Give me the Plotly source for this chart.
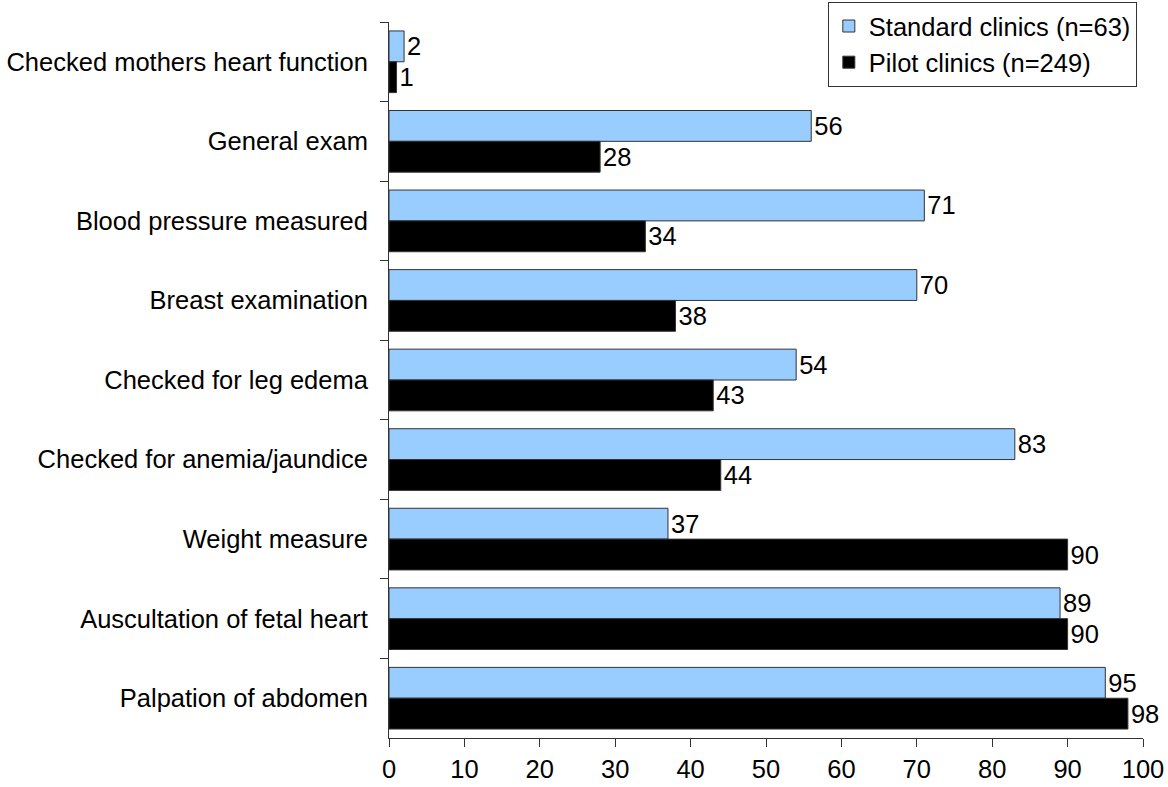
import plotly.graph_objects as go

categories = [
    "Checked mothers heart function",
    "General exam",
    "Blood pressure measured",
    "Breast examination",
    "Checked for leg edema",
    "Checked for anemia/jaundice",
    "Weight measure",
    "Auscultation of fetal heart",
    "Palpation of abdomen",
]
standard = [2, 56, 71, 70, 54, 83, 37, 89, 95]
pilot = [1, 28, 34, 38, 43, 44, 90, 90, 98]
x_ticks = [0, 10, 20, 30, 40, 50, 60, 70, 80, 90, 100]

FONT = "Liberation Sans, Arial, sans-serif"
FS = 25.5

fig = go.Figure()
fig.add_trace(go.Bar(
    y=categories, x=standard, orientation="h", name="Standard clinics (n=63)",
    legendgroup="s",
    marker=dict(color="#99CCFF", line=dict(color="#333333", width=1)),
    text=[str(v) for v in standard], textposition="outside",
    textfont=dict(family=FONT, size=FS, color="black"), cliponaxis=False,
))
fig.add_trace(go.Bar(
    y=categories, x=pilot, orientation="h", name="Pilot clinics (n=249)",
    legendgroup="p",
    marker=dict(color="#000000", line=dict(color="#333333", width=1)),
    text=[str(v) for v in pilot], textposition="outside",
    textfont=dict(family=FONT, size=FS, color="black"), cliponaxis=False,
))

fig.update_layout(
    width=1168, height=787,
    margin=dict(l=389, r=25, t=22, b=49, autoexpand=False),
    paper_bgcolor="white", plot_bgcolor="white",
    barmode="group", bargap=0.225, bargroupgap=0,
    font=dict(family=FONT, size=FS, color="black"),
    showlegend=True,
    legend=dict(
        x=0.582, y=1.028, xanchor="left", yanchor="top",
        bordercolor="#333333", borderwidth=1, bgcolor="white",
        font=dict(family=FONT, size=FS, color="black"),
        traceorder="normal", tracegroupgap=7,
    ),
    xaxis=dict(
        range=[0, 100], tickvals=x_ticks, ticktext=[str(t) for t in x_ticks],
        showgrid=False, zeroline=False, showline=True, linecolor="#333333", linewidth=1,
        ticks="outside", ticklen=8, tickcolor="#333333",
        tickfont=dict(family=FONT, size=FS, color="black"),
    ),
    yaxis=dict(
        categoryorder="array", categoryarray=categories, autorange="reversed",
        showgrid=False, zeroline=False, showline=True, linecolor="#333333", linewidth=1,
        ticks="outside", ticklen=8, tickcolor="#333333", tickson="boundaries",
        ticklabelstandoff=15,
        tickfont=dict(family=FONT, size=FS, color="black"),
    ),
)

fig.write_html(
    "out.html",
    config={"displayModeBar": False},
    post_script="document.body.style.margin='0';document.body.style.padding='0';",
)
